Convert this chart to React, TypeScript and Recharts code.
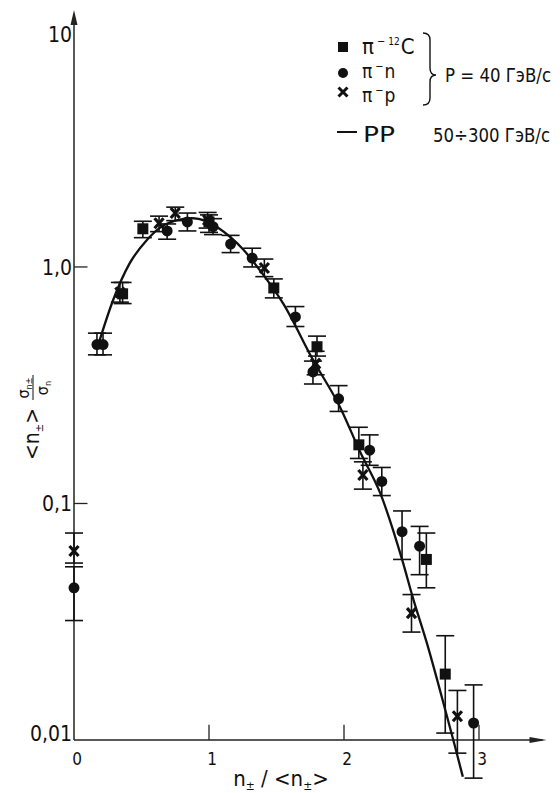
import React from 'react';
import { ComposedChart, Scatter, Line, XAxis, YAxis, ErrorBar, ReferenceLine, Legend } from 'recharts';

const FONT = "'Liberation Sans Narrow', 'DejaVu Sans Condensed', 'Liberation Sans', sans-serif";
const INK = '#111';

// π⁻ ¹²C (squares)
const carbonX = [0.36, 0.51, 1.0, 1.48, 1.8, 2.11, 2.61, 2.75];
const carbonY = [0.77, 1.45, 1.55, 0.815, 0.46, 0.177, 0.058, 0.019];
const carbonLo = [0.7, 1.33, 1.4, 0.74, 0.42, 0.155, 0.044, 0.0107];
const carbonHi = [0.86, 1.56, 1.66, 0.89, 0.51, 0.21, 0.075, 0.0276];

// π⁻ n (circles)
const neutronX = [0.0, 0.17, 0.215, 0.69, 0.84, 1.03, 1.16, 1.32, 1.64, 1.77, 1.96, 2.19, 2.28, 2.43, 2.56, 2.96];
const neutronY = [0.044, 0.47, 0.47, 1.42, 1.55, 1.48, 1.25, 1.09, 0.615, 0.36, 0.277, 0.168, 0.124, 0.076, 0.066, 0.0118];
const neutronLo = [0.032, 0.425, 0.425, 1.31, 1.42, 1.37, 1.15, 1.0, 0.56, 0.32, 0.245, 0.145, 0.108, 0.058, 0.05, 0.0069];
const neutronHi = [0.054, 0.525, 0.525, 1.52, 1.69, 1.6, 1.36, 1.2, 0.68, 0.4, 0.315, 0.195, 0.142, 0.093, 0.08, 0.0171];

// π⁻ p (crosses)
const protonX = [0.0, 0.34, 0.63, 0.75, 0.99, 1.41, 1.79, 2.14, 2.5, 2.84];
const protonY = [0.063, 0.78, 1.53, 1.69, 1.58, 0.99, 0.39, 0.132, 0.0344, 0.0126];
const protonLo = [0.056, 0.71, 1.41, 1.57, 1.46, 0.91, 0.35, 0.115, 0.0286, 0.0088];
const protonHi = [0.075, 0.86, 1.64, 1.79, 1.7, 1.08, 0.44, 0.15, 0.0412, 0.0162];

// pp 50÷300 GeV/c curve
const curveX = [0.18, 0.29, 0.41, 0.54, 0.64, 0.75, 0.87, 0.98, 1.07, 1.25, 1.4, 1.55, 1.77, 1.97, 2.12, 2.27, 2.43, 2.51, 2.62, 2.73, 2.82, 2.88];
const curveY = [0.47, 0.725, 1.03, 1.3, 1.47, 1.57, 1.61, 1.56, 1.46, 1.19, 0.93, 0.7, 0.405, 0.256, 0.165, 0.11, 0.058, 0.04, 0.025, 0.0148, 0.0095, 0.007];

const yTicks = [0.01, 0.1, 1, 10];
const yTickLabels = ['0,01', '0,1', '1,0', '10'];
const xTicks = [0, 1, 2, 3];
const xTickLabels = ['0', '1', '2', '3'];

const X_MAX = 3.5;
const Y_MIN = 0.00671;
const Y_MAX = 12.2;

const mk = (xs: number[], ys: number[], lo: number[], hi: number[]) =>
  xs.map((x, i) => ({ x, y: ys[i], err: [ys[i] - lo[i], hi[i] - ys[i]] }));

const carbonData = mk(carbonX, carbonY, carbonLo, carbonHi);
const neutronData = mk(neutronX, neutronY, neutronLo, neutronHi);
const protonData = mk(protonX, protonY, protonLo, protonHi);
const curveData = curveX.map((x, i) => ({ x, y: curveY[i] }));

const SquareShape = (p: any) => <rect x={p.cx - 5.5} y={p.cy - 5.5} width={11} height={11} fill={INK} />;
const CircleShape = (p: any) => <circle cx={p.cx} cy={p.cy} r={5.5} fill={INK} />;
const CrossShape = (p: any) => (
  <path
    d={`M${p.cx - 4.5} ${p.cy - 5} L${p.cx + 4.5} ${p.cy + 5} M${p.cx + 4.5} ${p.cy - 5} L${p.cx - 4.5} ${p.cy + 5}`}
    stroke={INK}
    strokeWidth={3.2}
  />
);

const ArrowRightLine = (p: any) => (
  <g>
    <line x1={p.x1} y1={p.y1} x2={p.x2 - 4} y2={p.y2} stroke="#222" strokeWidth={1.5} />
    <polygon points={`${p.x2},${p.y2} ${p.x2 - 17},${p.y2 - 3} ${p.x2 - 17},${p.y2 + 3}`} fill="#222" />
  </g>
);
const ArrowUpLine = (p: any) => {
  const topY = Math.min(p.y1, p.y2);
  const botY = Math.max(p.y1, p.y2);
  return (
    <g>
      <line x1={p.x1} y1={botY} x2={p.x1} y2={topY + 4} stroke="#222" strokeWidth={1.5} />
      <polygon points={`${p.x1},${topY} ${p.x1 - 3.5},${topY + 15} ${p.x1 + 3.5},${topY + 15}`} fill="#222" />
    </g>
  );
};

const XTick = (p: any) => {
  const i = xTicks.indexOf(p.payload.value);
  return (
    <text x={p.x + 3} y={p.y - 16} textAnchor="middle" fontSize={17} fontFamily={FONT} fill={INK}>
      {xTickLabels[i]}
    </text>
  );
};

const YTick = (p: any) => {
  const v = p.payload.value;
  const i = yTicks.indexOf(v);
  const nudge = v === 10 ? 5 : v === 0.01 ? -6 : 1;
  return (
    <text x={p.x} y={p.y + nudge} dy={7} textAnchor="end" fontSize={21} fontFamily={FONT} fill={INK}>
      {yTickLabels[i]}
    </text>
  );
};

const XTitle = () => (
  <text x={281} y={786} textAnchor="middle" fontSize={22} fontFamily={FONT} fill={INK}>
    n<tspan fontSize={12} dy={4}>±</tspan>
    <tspan dy={-4}>{' / <n'}</tspan>
    <tspan fontSize={12} dy={4}>±</tspan>
    <tspan dy={-4}>{'>'}</tspan>
  </text>
);

const YTitle = () => (
  <g transform="translate(32,408) rotate(-90)" fontFamily={FONT} fill={INK}>
    <text x={-26} y={7} textAnchor="middle" fontSize={21}>
      {'<n'}
      <tspan fontSize={11} dy={4}>±</tspan>
      <tspan dy={-4}>{'>'}</tspan>
    </text>
    <text x={20} y={-3} textAnchor="middle" fontSize={16}>
      σ<tspan fontSize={9} dy={3}>n±</tspan>
    </text>
    <line x1={8} y1={1} x2={33} y2={1} stroke={INK} strokeWidth={1} />
    <text x={20} y={16} textAnchor="middle" fontSize={16}>
      σ<tspan fontSize={9} dy={3}>n</tspan>
    </text>
  </g>
);

const LegendBox = () => (
  <svg width={226} height={128} style={{ display: 'block', overflow: 'visible' }} fontFamily={FONT}>
    <rect x={8} y={17} width={10} height={10} fill={INK} />
    <circle cx={13} cy={48} r={5} fill={INK} />
    <path d="M8.5 62.5 L17.5 71.5 M17.5 62.5 L8.5 71.5" stroke={INK} strokeWidth={3} />
    <text x={32} y={29} fontSize={22} fill={INK}>
      π
      <tspan fontSize={11} dx={3} dy={-9}>−</tspan>
      <tspan fontSize={10} dx={3}>12</tspan>
      <tspan fontSize={22} dx={1} dy={9}>C</tspan>
    </text>
    <text x={32} y={53} fontSize={19} fill={INK}>
      π
      <tspan fontSize={11} dx={3} dy={-8}>−</tspan>
      <tspan fontSize={19} dx={1} dy={8}>n</tspan>
    </text>
    <text x={32} y={77} fontSize={19} fill={INK}>
      π
      <tspan fontSize={11} dx={3} dy={-8}>−</tspan>
      <tspan fontSize={19} dx={1} dy={8}>p</tspan>
    </text>
    <path
      d="M93 8 Q100 8 100 15 L100 43 Q100 50 106 50 Q100 50 100 57 L100 73 Q100 80 93 80"
      fill="none"
      stroke={INK}
      strokeWidth={1.4}
    />
    <text x={115} y={57} fontSize={20} fill={INK} textLength={106} lengthAdjust="spacingAndGlyphs">
      P = 40 ГэВ/с
    </text>
    <line x1={7} y1={107} x2={27} y2={107} stroke={INK} strokeWidth={2} />
    <text x={33} y={117} fontSize={22} fill={INK} textLength={32} lengthAdjust="spacingAndGlyphs">
      PP
    </text>
    <text x={103} y={117} fontSize={20} fill={INK} textLength={117} lengthAdjust="spacingAndGlyphs">
      50÷300 ГэВ/с
    </text>
  </svg>
);

export default function App() {
  return (
    <div style={{ width: 560, height: 793, overflow: 'hidden', background: '#fff' }}>
      <style>{'body{margin:0;}'}</style>
      <ComposedChart width={560} height={793} margin={{ top: 10, right: 13.5, bottom: 0, left: 0 }}>
        <XAxis
          type="number"
          dataKey="x"
          domain={[0, X_MAX]}
          ticks={xTicks}
          height={12}
          axisLine={false}
          tickLine={false}
          tickSize={0}
          tickMargin={0}
          tick={XTick}
          label={{ content: XTitle }}
        />
        <YAxis
          type="number"
          dataKey="y"
          scale="log"
          domain={[Y_MIN, Y_MAX]}
          ticks={yTicks}
          width={74}
          axisLine={false}
          tickLine={false}
          tickSize={0}
          tickMargin={2}
          tick={YTick}
          label={{ content: YTitle }}
        />
        <Legend
          layout="vertical"
          align="center"
          verticalAlign="middle"
          wrapperStyle={{ position: 'absolute', left: 330, top: 25, width: 226, height: 128 }}
          content={LegendBox}
        />
        <ReferenceLine segment={[{ x: 0, y: 0.01 }, { x: X_MAX, y: 0.01 }]} shape={ArrowRightLine} ifOverflow="visible" />
        <ReferenceLine segment={[{ x: 0, y: 0.01 }, { x: 0, y: Y_MAX }]} shape={ArrowUpLine} ifOverflow="visible" />
        {[1, 2, 3].map((t) => (
          <ReferenceLine key={`xt${t}`} segment={[{ x: t, y: 0.01 }, { x: t, y: 0.0116 }]} stroke="#222" strokeWidth={1.3} />
        ))}
        {[0.1, 1].map((t) => (
          <ReferenceLine key={`yt${t}`} segment={[{ x: 0, y: t }, { x: 0.1, y: t }]} stroke="#222" strokeWidth={1.3} />
        ))}
        <Line
          data={curveData}
          dataKey="y"
          type="monotone"
          dot={false}
          activeDot={false}
          stroke={INK}
          strokeWidth={2.3}
          isAnimationActive={false}
          legendType="none"
        />
        <Scatter data={carbonData} shape={SquareShape} isAnimationActive={false} legendType="none">
          <ErrorBar dataKey="err" direction="y" width={9} stroke={INK} strokeWidth={1.6} isAnimationActive={false} />
        </Scatter>
        <Scatter data={neutronData} shape={CircleShape} isAnimationActive={false} legendType="none">
          <ErrorBar dataKey="err" direction="y" width={9} stroke={INK} strokeWidth={1.6} isAnimationActive={false} />
        </Scatter>
        <Scatter data={protonData} shape={CrossShape} isAnimationActive={false} legendType="none">
          <ErrorBar dataKey="err" direction="y" width={9} stroke={INK} strokeWidth={1.6} isAnimationActive={false} />
        </Scatter>
      </ComposedChart>
    </div>
  );
}
